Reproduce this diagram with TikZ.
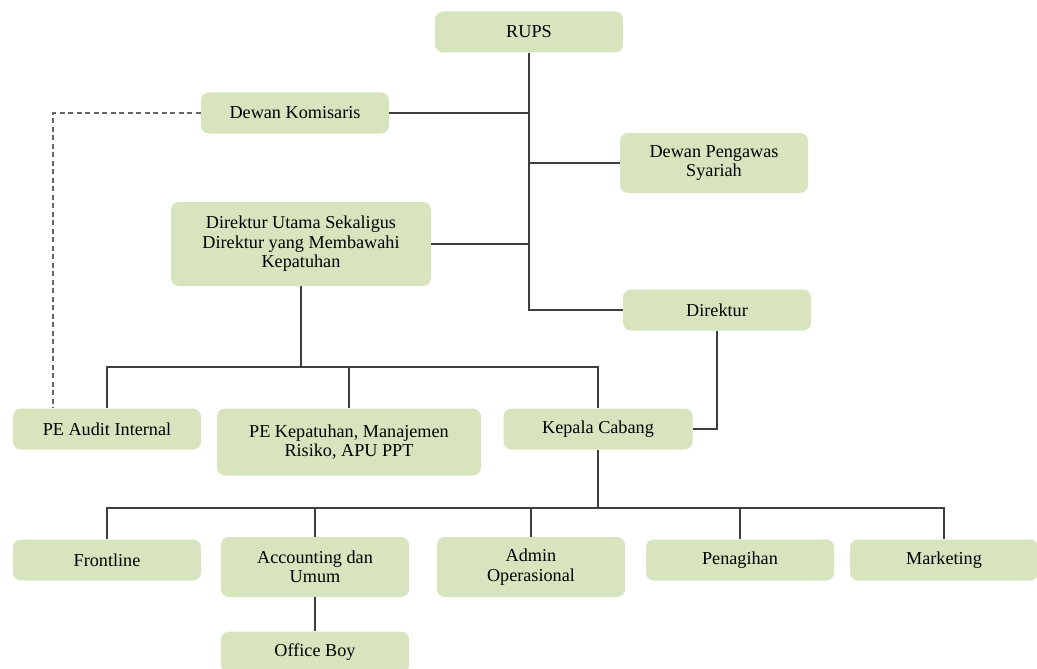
\documentclass[tikz,border=0pt]{standalone}
\usepackage{fontspec}
\setmainfont{Liberation Serif}
\usetikzlibrary{calc,positioning}
\definecolor{boxgreen}{RGB}{216,228,190}
\definecolor{linegrey}{RGB}{62,62,62}
\tikzset{
	unitbox/.style={fill=boxgreen, rounded corners=8pt, align=center, inner sep=0pt,
		minimum width=188pt, minimum height=41pt, font=\fontsize{18.2}{19.5}\selectfont},
	conn/.style={line width=1.7pt, color=linegrey},
	dashconn/.style={line width=1.7pt, color=linegrey!80, dash pattern=on 5pt off 3.5pt}
}

\begin{document}
\begin{tikzpicture}[x=1pt, y=-1pt]
			%%%%% START %%%%%
			\useasboundingbox[fill=white] (0, 0) rectangle (1037, 669);
			
			\node[unitbox] (rups) at (529, 32) {RUPS};
			\node[unitbox] (komisaris) at (295, 113) {Dewan Komisaris};
			\node[unitbox, minimum height=60pt] (dps) at (714, 163) {Dewan Pengawas\\Syariah};
			\node[unitbox, minimum width=260pt, minimum height=84pt] (dirut) at (301, 244) {Direktur Utama Sekaligus\\Direktur yang Membawahi\\Kepatuhan};
			\node[unitbox] (direktur) at (717, 310) {Direktur};
			
			\node[unitbox] (audit) at (107, 429) {PE Audit Internal};
			\node[unitbox, minimum width=264pt, minimum height=67pt] (kepatuhan) at (349, 442) {PE Kepatuhan, Manajemen\\Risiko, APU PPT};
			\node[unitbox, minimum width=189pt] (cabang) at (598, 429) {Kepala Cabang};
			
			\node[unitbox] (frontline) at (107, 560) {Frontline};
			\node[unitbox, minimum height=60pt] (accounting) at (315, 567) {Accounting dan\\Umum};
			\node[unitbox, minimum height=60pt] (admin) at (531, 567) {Admin\\Operasional};
			\node[unitbox] (penagihan) at (740, 560) {Penagihan};
			\node[unitbox] (marketing) at (944, 560) {Marketing};
			\node[unitbox] (officeboy) at (315, 652) {Office Boy};
			
			\coordinate (busa) at (301, 367);
			\coordinate (busb) at (598, 508);
			
			% RUPS
			\draw[conn] (rups.south) |- (direktur.west);
			\draw[conn] (komisaris.east) -- (komisaris.east -| rups.south);
			\draw[conn] (dps.west) -- (dps.west -| rups.south);
			\draw[conn] (dirut.east) -- (dirut.east -| rups.south);
			\draw[dashconn] (komisaris.west) -| ([xshift=-54pt]audit.north);
			
			% direktur utama
			\draw[conn] (dirut.south) -- (busa);
			\draw[conn] (audit.north) |- (busa) -| (cabang.north);
			\draw[conn] (kepatuhan.north) -- (kepatuhan.north |- busa);
			\draw[conn] (direktur.south) |- (cabang.east);
			
			% kepala cabang
			\draw[conn] (cabang.south) -- (busb);
			\draw[conn] (frontline.north) |- (busb) -| (marketing.north);
			\foreach \unit in {accounting, admin, penagihan}
				\draw[conn] (\unit.north) -- (\unit.north |- busb);
			\draw[conn] (accounting.south) -- (officeboy.north);
			%%%%% END %%%%%
		\end{tikzpicture}
\end{document}
